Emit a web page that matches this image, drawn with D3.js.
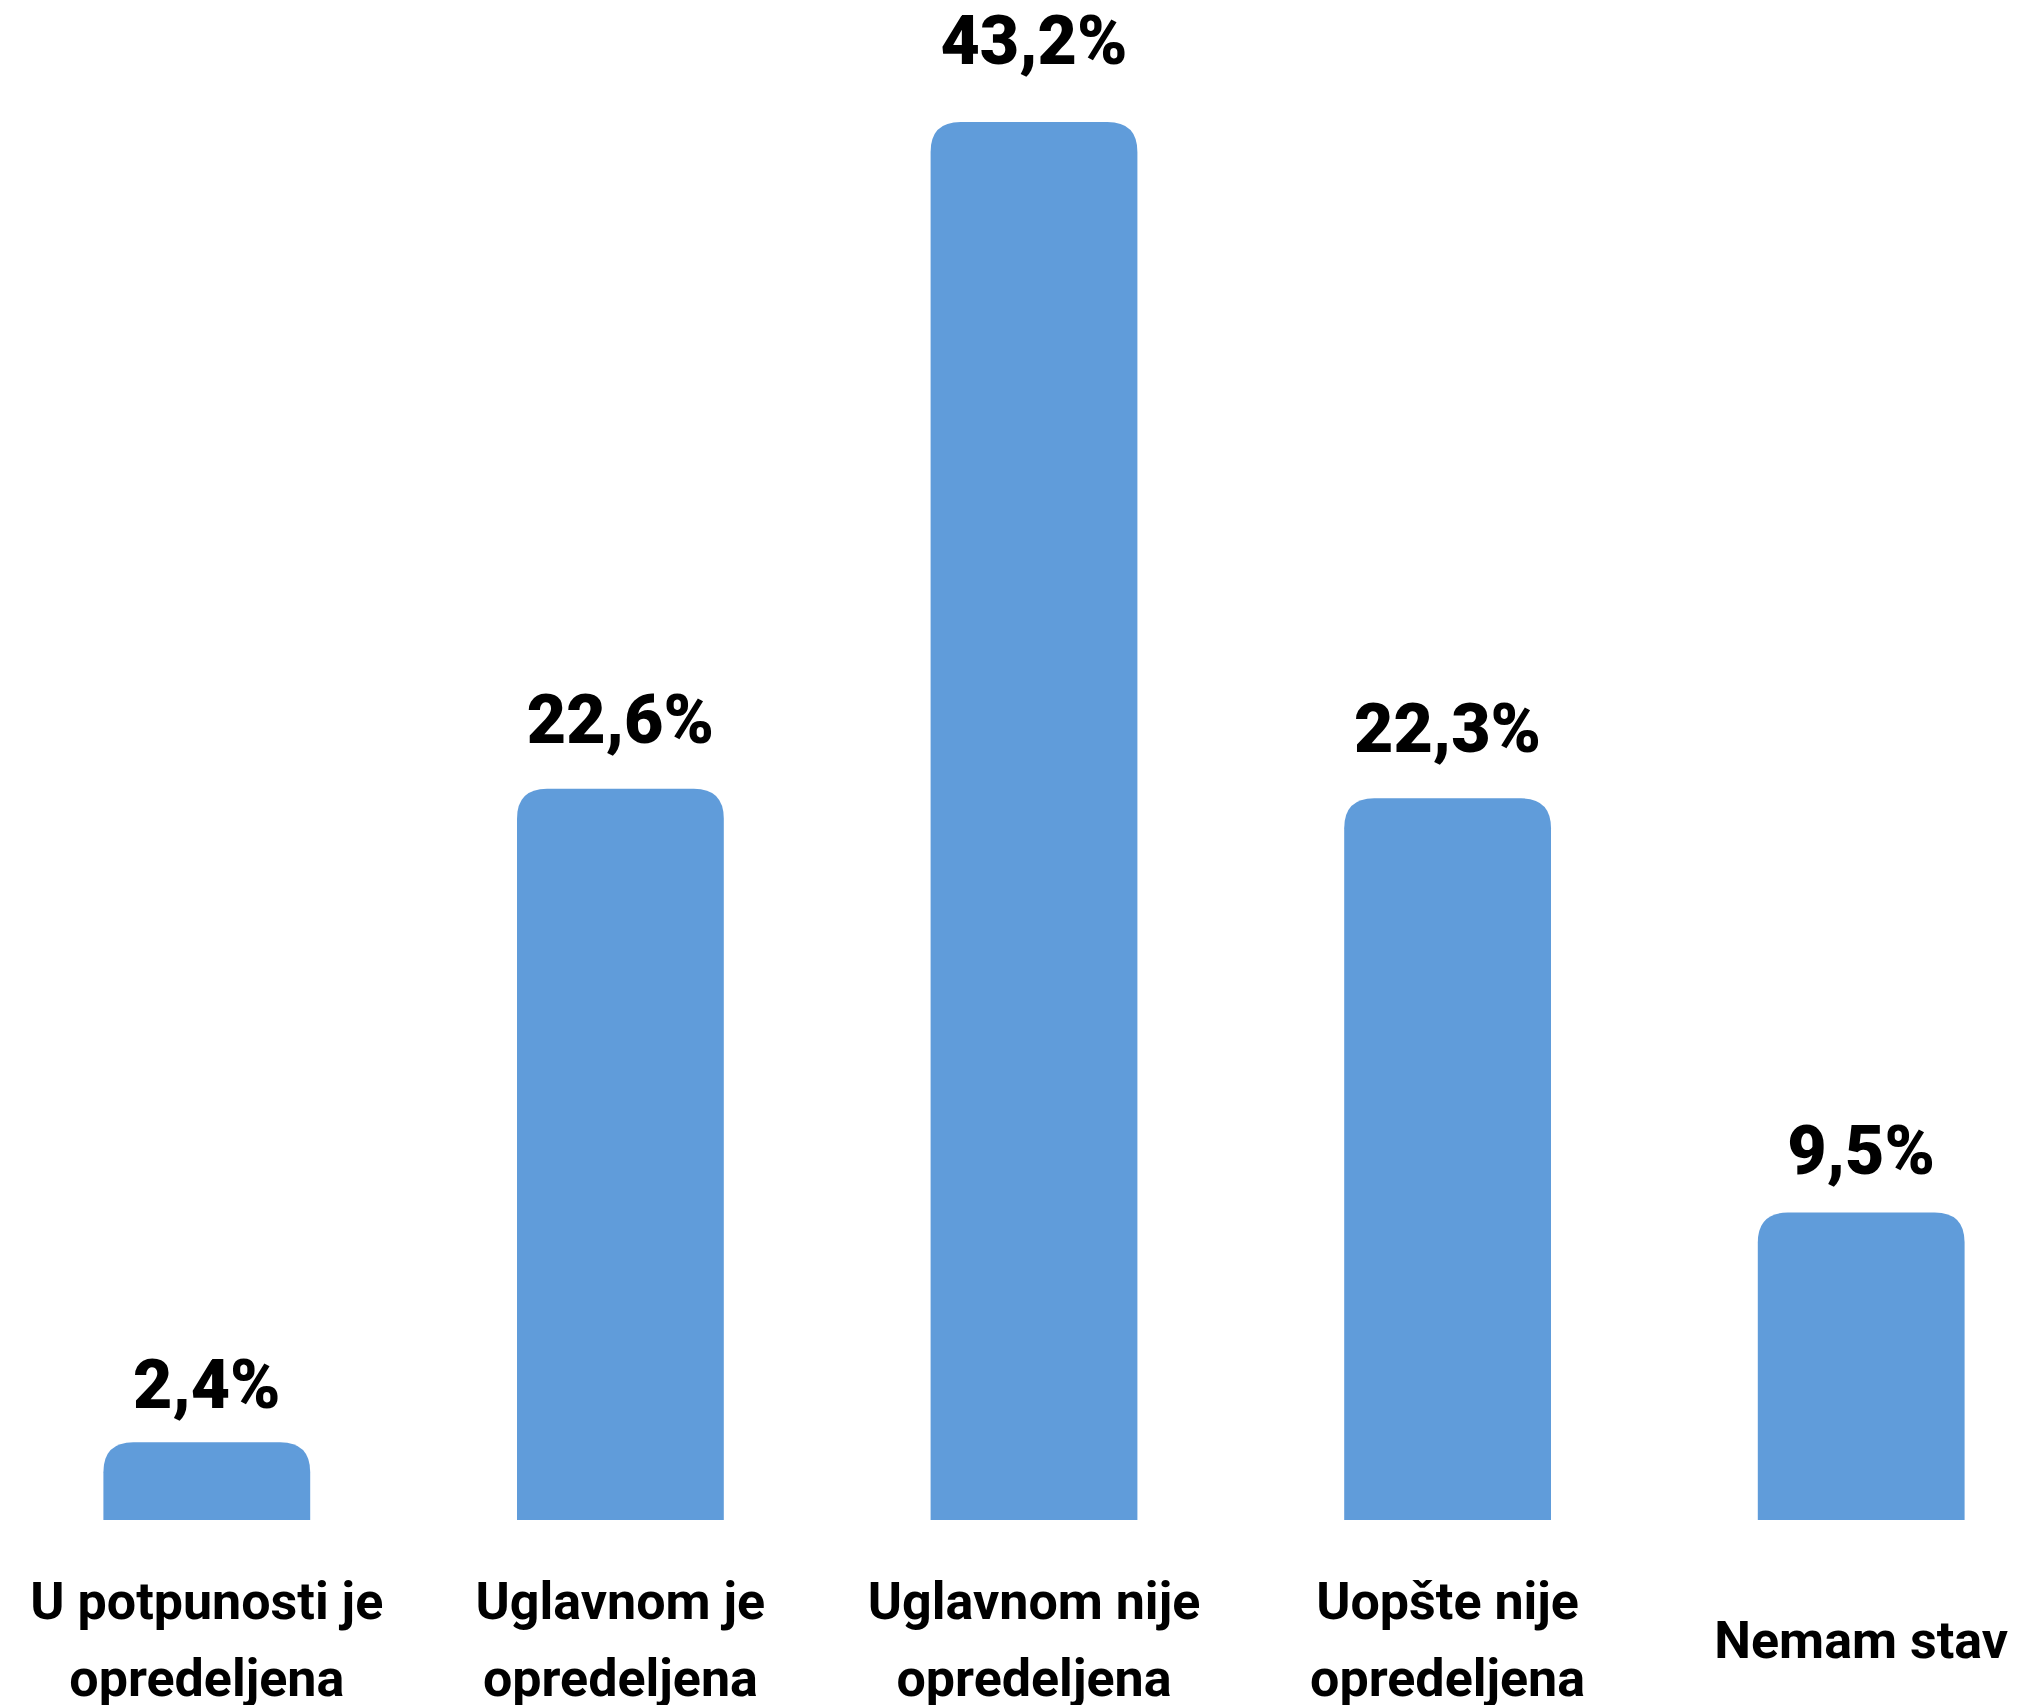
<!DOCTYPE html>
<html>
<head>
<meta charset="utf-8">
<script src="https://cdn.jsdelivr.net/npm/d3@7"></script>
<style>
  html, body { margin: 0; padding: 0; background: #ffffff; }
  svg { display: block; }
</style>
</head>
<body>
<script>
// ---- Data ----
const categories = [
  "U potpunosti je\nopredeljena",
  "Uglavnom je\nopredeljena",
  "Uglavnom nije\nopredeljena",
  "Uopšte nije\nopredeljena",
  "Nemam stav"
];
const values = [2.4, 22.6, 43.2, 22.3, 9.5];

// ---- Layout ----
const W = 2017, H = 1705;
const baseline = 1520, topY = 122;
const radius = 30;
const barColor = "#609CDA";

const svg = d3.select("body").append("svg")
  .attr("width", W).attr("height", H);

const x = d3.scaleBand()
  .domain(categories)
  .range([0, 2068])
  .paddingInner(0.5)
  .paddingOuter(0.25);

const y = d3.scaleLinear()
  .domain([0, d3.max(values)])
  .range([baseline, topY]);

// label baseline: gap above bar grows slightly with value
const yLabel = d3.scaleLinear()
  .domain([0, d3.max(values)])
  .range([baseline - 33, topY - 58]);

const locale = d3.formatLocale({ decimal: ",", thousands: ".", grouping: [3], currency: ["", ""] });
const fmt = locale.format(".1f");

const data = categories.map((c, i) => ({ cat: c, val: values[i] }));

function topRoundedBar(x0, y0, w, h, r) {
  const rr = Math.min(r, w / 2, h);
  return `M${x0},${y0 + h}` +
    `V${y0 + rr}` +
    `Q${x0},${y0} ${x0 + rr},${y0}` +
    `H${x0 + w - rr}` +
    `Q${x0 + w},${y0} ${x0 + w},${y0 + rr}` +
    `V${y0 + h}Z`;
}

// Bars
svg.append("g").selectAll("path")
  .data(data)
  .join("path")
  .attr("fill", barColor)
  .attr("d", d => {
    const x0 = x(d.cat), w = x.bandwidth();
    const y0 = y(d.val), h = y(0) - y(d.val);
    return topRoundedBar(x0, y0, w, h, radius);
  });

// Value labels
svg.append("g").selectAll("text")
  .data(data)
  .join("text")
  .attr("x", d => x(d.cat) + x.bandwidth() / 2)
  .attr("y", d => yLabel(d.val))
  .attr("text-anchor", "middle")
  .attr("font-family", "Roboto, 'Noto Sans', sans-serif")
  .attr("font-weight", 900)
  .attr("font-size", 68)
  .attr("fill", "#000")
  .text(d => fmt(d.val) + "%");

// Category labels
const lineGap = 77;
const firstLineY = 1619;
const catG = svg.append("g").selectAll("text")
  .data(data)
  .join("text")
  .attr("text-anchor", "middle")
  .attr("font-family", "Roboto, 'Noto Sans', sans-serif")
  .attr("font-weight", 700)
  .attr("font-size", 52)
  .attr("fill", "#000");

catG.each(function(d) {
  const lines = d.cat.split("\n");
  const cx = x(d.cat) + x.bandwidth() / 2;
  const startY = firstLineY + (2 - lines.length) * lineGap / 2;
  d3.select(this).selectAll("tspan")
    .data(lines)
    .join("tspan")
    .attr("x", cx)
    .attr("y", (l, i) => startY + i * lineGap)
    .text(l => l);
});
</script>
</body>
</html>
